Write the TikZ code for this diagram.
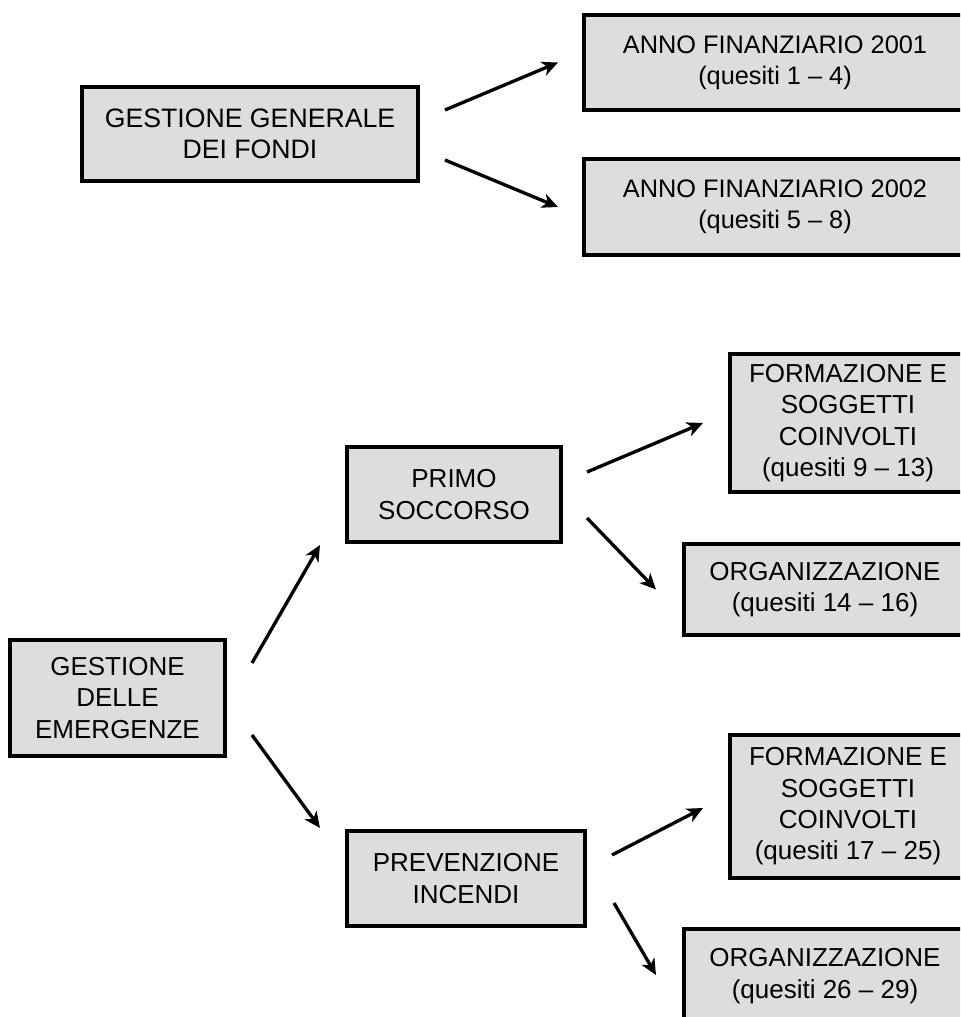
\documentclass[tikz,border=0pt]{standalone}
\usepackage{fontspec}
\setmainfont{Liberation Sans}
\usetikzlibrary{arrows.meta}
\definecolor{boxgray}{HTML}{DDDDDD}
\tikzset{
	voce/.style={draw=black, line width=3pt, fill=boxgray, align=center, inner sep=0pt,
		font=\fontsize{19.5}{23.5}\selectfont},
	freccia/.style={line width=2.5pt, -{Stealth[length=12pt, width=11pt, inset=3.5pt]}}
}

\begin{document}
\begin{tikzpicture}[x=0.75pt, y=-0.75pt]

					\clip (0,0) rectangle (960,1017);

					% fondi
					\node[voce, minimum width=252pt, minimum height=70.5pt, font=\fontsize{20}{23.5}\selectfont] (gestfondi) at (250,134) {GESTIONE GENERALE\\DEI FONDI};
					\node[voce, minimum width=286.5pt, minimum height=71.25pt, font=\fontsize{19}{23.5}\selectfont] (anno2001) at (775,62.5) {ANNO FINANZIARIO 2001\\(quesiti 1 -- 4)};
					\node[voce, minimum width=286.5pt, minimum height=72pt, font=\fontsize{19}{23.5}\selectfont] (anno2002) at (775,207) {ANNO FINANZIARIO 2002\\(quesiti 5 -- 8)};

					\draw[freccia] ([shift={(25,-24)}]gestfondi.east) -- ([shift={(-24,0)}]anno2001.west);
					\draw[freccia] ([shift={(25,26)}]gestfondi.east) -- ([shift={(-24,0)}]anno2002.west);

					% emergenze
					\node[voce, minimum width=161.25pt, minimum height=87pt] (gestemerg) at (117.5,698) {GESTIONE\\DELLE\\EMERGENZE};
					\node[voce, minimum width=160.5pt, minimum height=71.25pt] (primo) at (454,494.5) {PRIMO\\SOCCORSO};
					\node[voce, minimum width=178.5pt, minimum height=71.25pt] (prevenz) at (466,878.5) {PREVENZIONE\\INCENDI};

					\node[voce, minimum width=177pt, minimum height=103.5pt] (form1) at (848,423) {FORMAZIONE E\\SOGGETTI\\COINVOLTI\\(quesiti 9 -- 13)};
					\node[voce, minimum width=211.5pt, minimum height=68.25pt] (org1) at (825,589.5) {ORGANIZZAZIONE\\(quesiti 14 -- 16)};
					\node[voce, minimum width=177pt, minimum height=107.25pt] (form2) at (848,806.5) {FORMAZIONE E\\SOGGETTI\\COINVOLTI\\(quesiti 17 -- 25)};
					\node[voce, minimum width=211.5pt, minimum height=70.5pt] (org2) at (825,976) {ORGANIZZAZIONE\\(quesiti 26 -- 29)};

					\draw[freccia] ([shift={(25,-35)}]gestemerg.east) -- ([shift={(-25,1)}]primo.south west);
					\draw[freccia] ([shift={(25,37)}]gestemerg.east) -- ([shift={(-25,-1)}]prevenz.north west);

					\draw[freccia] ([shift={(24,-22.5)}]primo.east) -- ([shift={(-25,0)}]form1.west);
					\draw[freccia] ([shift={(24,23.5)}]primo.east) -- ([shift={(-26,0)}]org1.west);

					\draw[freccia] ([shift={(25,-23.5)}]prevenz.east) -- ([shift={(-25,1.5)}]form2.west);
					\draw[freccia] ([shift={(27,24.5)}]prevenz.east) -- ([shift={(-26,-1)}]org2.west);

\end{tikzpicture}
\end{document}
